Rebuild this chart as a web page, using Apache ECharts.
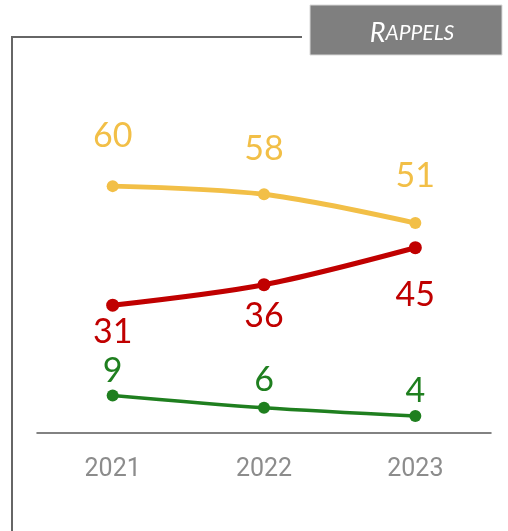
<!DOCTYPE html>
<html><head><meta charset="utf-8">
<script src="https://cdn.jsdelivr.net/npm/echarts@6/dist/echarts.min.js"></script>
<style>html,body{margin:0;padding:0;background:#fff}#c{width:508px;height:531px}</style>
</head><body><div id="c"></div>
<script>
const categories = ['2021', '2022', '2023'];
const yellowValues = [60, 58, 51];
const redValues = [31, 36, 45];
const greenValues = [9, 6, 4];
const titleText = ['R', 'APPELS'];

// label spacing (style only)
const yellowGap = [27, 22, 24];
const redGap = [3.5, 7.5, 24];
const greenGap = [1.5, 4.5, 2.5];

const labelFont = 'Lato, "Noto Sans", sans-serif';

function mk(name, values, gaps, color, pos, width, size) {
  return {
    name, type: 'line', smooth: 0.3,
    data: values.map((v, i) => ({ value: v, label: { distance: gaps[i] } })),
    symbol: 'circle', symbolSize: size,
    lineStyle: { color, width },
    itemStyle: { color },
    label: { show: true, position: pos, color, fontSize: 34, fontFamily: labelFont },
    z: 3
  };
}

const chart = echarts.init(document.getElementById('c'), null, { renderer: 'canvas' });
chart.setOption({
  animation: false,
  grid: { left: 37, right: 17, top: 104, bottom: 98.5 },
  xAxis: {
    type: 'category', data: categories, boundaryGap: true,
    axisLine: { lineStyle: { color: '#595959', width: 1.5 } },
    axisTick: { show: false },
    axisLabel: { color: '#8c8c8c', fontSize: 25, margin: 25, fontFamily: '"Liberation Sans Narrow", "Roboto", sans-serif' }
  },
  yAxis: { type: 'value', min: 0, max: 80, show: false, splitLine: { show: false } },
  series: [
    mk('Jaune', yellowValues, yellowGap, '#F2BF47', 'top', 5, 12),
    mk('Rouge', redValues, redGap, '#C00000', 'bottom', 5, 13),
    mk('Vert', greenValues, greenGap, '#1F7F1F', 'top', 3.5, 12)
  ],
  graphic: [
    { type: 'polyline', shape: { points: [[12, 531], [12, 37], [302, 37]] }, style: { stroke: '#666', lineWidth: 2, fill: null } },
    { type: 'rect', shape: { x: 310, y: 5, width: 192, height: 50 }, style: { fill: '#7f7f7f', stroke: '#d9d9d9', lineWidth: 1 } },
    { type: 'text', x: 412, y: 33, style: {
        text: '{a|' + titleText[0] + '}{b|' + titleText[1] + '}',
        align: 'center', verticalAlign: 'middle',
        rich: {
          a: { fill: '#fff', fontSize: 27, fontStyle: 'italic', fontFamily: labelFont },
          b: { fill: '#fff', fontSize: 21, fontStyle: 'italic', fontFamily: labelFont }
        }
    } }
  ]
});
</script></body></html>
